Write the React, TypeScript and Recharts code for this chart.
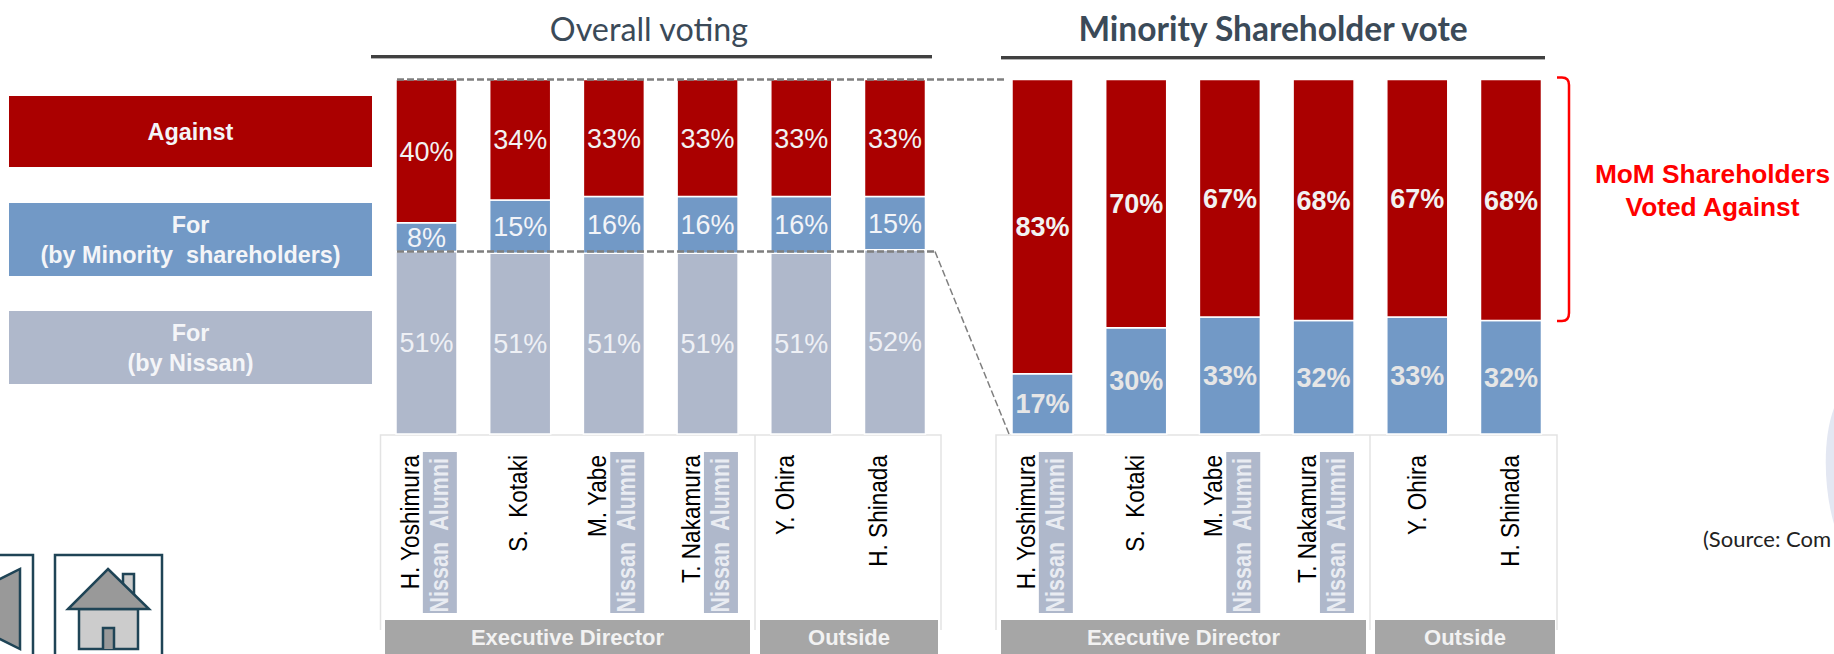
import { BarChart, Bar, XAxis, YAxis, LabelList } from "recharts";

const directors = ["H. Yoshimura", "S.  Kotaki", "M. Yabe", "T. Nakamura", "Y. Ohira", "H. Shinada"];
const nissanAlumni = ["H. Yoshimura", "M. Yabe", "T. Nakamura"];

// overall voting, % of votes
const overallAgainst = [40, 34, 33, 33, 33, 33];
const overallMinority = [8, 15, 16, 16, 16, 15];
const overallNissan = [51, 51, 51, 51, 51, 52];

// minority shareholders only, % of votes
const minorityAgainst = [83, 70, 67, 68, 67, 68];
const minorityFor = [17, 30, 33, 32, 33, 32];

const overallData = directors.map((name, i) => ({
  name,
  against: overallAgainst[i],
  minority: overallMinority[i],
  nissan: overallNissan[i],
}));
const minorityData = directors.map((name, i) => ({
  name,
  against: minorityAgainst[i],
  minority: minorityFor[i],
}));

const RED = "#aa0000";
const BLUE = "#7299c6";
const GREY_BLUE = "#afb8cb";
const BAND = "#a6a6a6";
const ARIAL = "'Liberation Sans', Arial, sans-serif";
const HUMANIST = "Lato, 'Open Sans', sans-serif";
const PLOT_TOP = 79.5;
const AXIS_HEIGHT = 220;

const pct = (v: number) => `${v}%`;

function NameTick({ x, payload, nameShift }: any) {
  const name = payload.value;
  const shift = nameShift[name] ?? -8;
  return (
    <g>
      {nissanAlumni.includes(name) && (
        <g>
          <rect x={x - 4} y={452} width={34} height={161} fill={GREY_BLUE} />
          <text
            transform={`translate(${x + 21} 458) rotate(-90) scale(1 1.18)`}
            textAnchor="end"
            fontFamily={ARIAL}
            fontWeight="bold"
            fontSize={21.5}
            fill="#e9ecf2"
            xmlSpace="preserve"
          >
            {"Nissan  Alumni"}
          </text>
        </g>
      )}
      <text
        transform={`translate(${x + shift} 455) rotate(-90) scale(1 1.12)`}
        textAnchor="end"
        fontFamily={ARIAL}
        fontSize={22.6}
        fill="#000"
        xmlSpace="preserve"
      >
        {name}
      </text>
    </g>
  );
}

function VoteChart({ data, left, bold, nameShift, blueLabel }: any) {
  const hasNissan = data[0].nissan !== undefined;
  const labelStyle = {
    fontFamily: ARIAL,
    fontSize: 27,
    fontWeight: bold ? "bold" : "normal",
  };
  return (
    <div style={{ position: "absolute", left, top: 0 }}>
      <BarChart
        width={562.2}
        height={654}
        data={data}
        stackOffset="expand"
        barSize={61}
        margin={{ top: PLOT_TOP, right: 0, bottom: 0, left: 0 }}
      >
        <XAxis
          dataKey="name"
          height={AXIS_HEIGHT}
          interval={0}
          axisLine={false}
          tickLine={false}
          tick={(props: any) => <NameTick {...props} nameShift={nameShift} />}
        />
        <YAxis hide domain={[0, 1]} />
        {hasNissan && (
          <Bar dataKey="nissan" stackId="v" fill={GREY_BLUE} stroke="#fff" strokeWidth={1.5} isAnimationActive={false}>
            <LabelList dataKey="nissan" position="center" formatter={pct} fill="#eef0f5" style={labelStyle} />
          </Bar>
        )}
        <Bar dataKey="minority" stackId="v" fill={BLUE} stroke="#fff" strokeWidth={1.5} isAnimationActive={false}>
          <LabelList dataKey="minority" position="center" formatter={pct} fill={blueLabel} style={labelStyle} />
        </Bar>
        <Bar dataKey="against" stackId="v" fill={RED} stroke="#fff" strokeWidth={1.5} isAnimationActive={false}>
          <LabelList dataKey="against" position="center" formatter={pct} fill="#f2f2f2" style={labelStyle} />
        </Bar>
      </BarChart>
    </div>
  );
}

function LegendBox({ top, height, color, lines }: any) {
  return (
    <div
      style={{
        position: "absolute",
        left: 9,
        top,
        width: 363,
        height,
        background: color,
        color: "#f4f5f8",
        fontFamily: ARIAL,
        fontWeight: "bold",
        fontSize: 23.4,
        lineHeight: "30px",
        textAlign: "center",
        display: "flex",
        flexDirection: "column",
        justifyContent: "center",
        whiteSpace: "pre",
      }}
    >
      {lines.map((line: string) => (
        <div key={line}>{line}</div>
      ))}
    </div>
  );
}

function Band({ x, width, label }: any) {
  return (
    <g>
      <rect x={x} y={620} width={width} height={34} fill={BAND} />
      <text
        x={x + width / 2}
        y={645}
        textAnchor="middle"
        fontFamily={ARIAL}
        fontWeight="bold"
        fontSize={22}
        fill="#f2f2f2"
      >
        {label}
      </text>
    </g>
  );
}

function Frame({ x1, xMid, x2 }: any) {
  return (
    <path
      d={`M${x1} 630V435H${x2}V630M${xMid} 435V630`}
      fill="none"
      stroke="#e3e3e3"
      strokeWidth={1.5}
    />
  );
}

function NavIcons() {
  const ink = "#1f4456";
  return (
    <g stroke={ink} strokeWidth={2.5}>
      <path d="M-3 555H33V654" fill="none" />
      <path d="M20 569V649L0 639H-4V579H0Z" fill="#999" strokeLinejoin="miter" />
      <path d="M55 654V555H162V654" fill="none" />
      <path d="M123 592V574H134V602Z" fill="#ccc" />
      <path d="M79 609H138V649H79Z" fill="#ccc" />
      <path d="M108 569L149 609H68Z" fill="#999" />
      <path d="M103 649V628H114V649" fill="#999" />
    </g>
  );
}

export default function App() {
  return (
    <div style={{ position: "absolute", left: 0, top: 0, width: 1834, height: 654, overflow: "hidden", background: "#fff" }}>
      <LegendBox top={96} height={71} color={RED} lines={["Against"]} />
      <LegendBox top={203} height={73} color={BLUE} lines={["For", "(by Minority  shareholders)"]} />
      <LegendBox top={311} height={73} color={GREY_BLUE} lines={["For", "(by Nissan)"]} />

      <svg width={1834} height={654} style={{ position: "absolute", left: 0, top: 0 }}>
        <path d="M1834 408C1822 440 1824 490 1834 524Z" fill="#e3e7f2" />
        <Frame x1={380.5} xMid={755} x2={941} />
        <Frame x1={996} xMid={1370} x2={1557} />
      </svg>

      <VoteChart data={overallData} left={380.4} blueLabel="#f2f4f8" nameShift={{ "S.  Kotaki": 6 }} />
      <VoteChart
        data={minorityData}
        left={995.6}
        bold
        blueLabel="#e6e6e6"
        nameShift={{ "S.  Kotaki": 7, "Y. Ohira": 8, "H. Shinada": 8 }}
      />

      <svg width={1834} height={654} style={{ position: "absolute", left: 0, top: 0, pointerEvents: "none" }}>
        <text x={649} y={41} textAnchor="middle" fontFamily={HUMANIST} fontSize={32.3} fill="#3b4a58">
          Overall voting
        </text>
        <rect x={371} y={55} width={561} height={3.4} fill="#404040" />
        <text x={1273} y={41} textAnchor="middle" fontFamily={HUMANIST} fontWeight="bold" fontSize={33.5} fill="#3b4a58">
          Minority Shareholder vote
        </text>
        <rect x={1001} y={56} width={544} height={3.4} fill="#404040" />

        <g stroke="#7f7f7f" strokeWidth={2.5} strokeDasharray="7 3" fill="none">
          <path d="M397 79.5H1006" />
          <path d="M397 251.5H935" />
        </g>
        <path d="M935 251.5L1009 434" stroke="#7f7f7f" strokeWidth={1.5} strokeDasharray="7 3" fill="none" />

        <path
          d="M1557 77.5H1562Q1569 77.5 1569 85V313Q1569 321 1562 321H1557"
          fill="none"
          stroke="#ff0000"
          strokeWidth={2.5}
        />
        <g fontFamily={ARIAL} fontWeight="bold" fontSize={26.3} fill="#ff0000" textAnchor="middle">
          <text x={1712.5} y={183}>MoM Shareholders</text>
          <text x={1712.5} y={216}>Voted Against</text>
        </g>

        <Band x={385} width={365} label="Executive Director" />
        <Band x={760} width={178} label="Outside" />
        <Band x={1001} width={365} label="Executive Director" />
        <Band x={1375} width={180} label="Outside" />

        <text x={1703} y={547} fontFamily={HUMANIST} fontSize={22} fill="#222">
          (Source: Com
        </text>

        <NavIcons />
      </svg>
    </div>
  );
}
